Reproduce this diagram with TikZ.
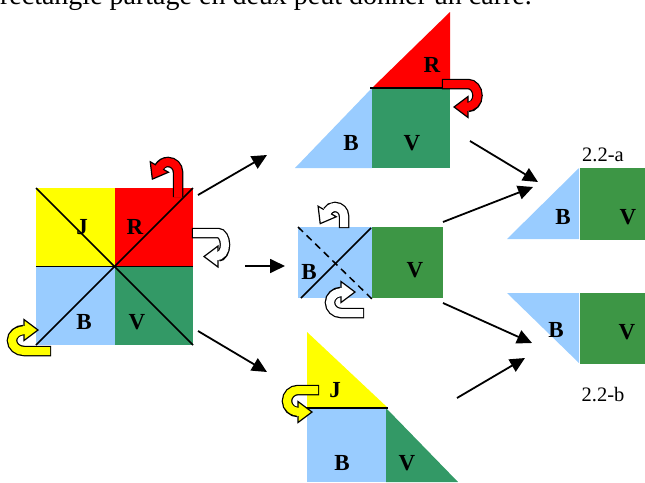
\documentclass[tikz,border=0pt]{standalone}
\usepackage{fontspec}
\setmainfont{Liberation Serif}
\usetikzlibrary{arrows.meta,calc}
\definecolor{jaune}{HTML}{FFFF00}
\definecolor{rouge}{HTML}{FF0000}
\definecolor{bleu}{HTML}{99CCFF}
\definecolor{vertA}{HTML}{339966}
\definecolor{vertB}{HTML}{3D9645}
\tikzset{
 lab/.style={font=\fontsize{23}{23}\selectfont\bfseries, inner sep=0pt},
 num/.style={font=\fontsize{20.5}{20.5}\selectfont, inner sep=0pt},
 conn/.style={line width=1.8pt, -{Triangle[length=15pt,width=14pt]}},
 cut/.style={line width=1.5pt},
 uout/.style={line width=10.5pt, draw=black},
 uin/.style={line width=8pt, draw=#1},
}
\newcommand\uhead[3]{\filldraw[fill=#3,draw=black,line width=1.2pt,line join=miter] ($(#1)+(#2+90:10.5)$) -- ($(#1)+(#2:14)$) -- ($(#1)+(#2-90:10.5)$) -- cycle;}
\newcommand\uturn[5]{% #1 name, #2 path, #3 head angle, #4 colour, #5 tail extension
 \draw[uout,shorten <=#5] #2 coordinate (#1);
 \uhead{#1}{#3}{#4}
 \draw[uin=#4,shorten >=-3pt] #2;}
\begin{document}
\begin{tikzpicture}[x=1pt,y=-1pt]
\useasboundingbox (0,0) rectangle (645,482);
\begin{scope}
\clip (0,0) rectangle (645,482);
\node[anchor=base east, font=\fontsize{28}{28}\selectfont, inner sep=0pt] (titre) at (532,4) {Un rectangle partagé en deux peut donner un carré.};
\end{scope}
% main square
\fill[jaune] (36,188) rectangle (114.5,266.5);
\fill[rouge] (114.5,188) rectangle (193,266.5);
\fill[bleu] (36,266.5) rectangle (114.5,345);
\fill[vertA] (114.5,266.5) rectangle (193,345);
\draw[cut] (36,188) -- (193,345);
\draw[cut] (36,345) -- (193,188);
\draw[cut] (36,266.5) -- (193,266.5);
\node[lab] (J1) at (82,227) {J};
\node[lab] (R1) at (135,227) {R};
\node[lab] (B1) at (84,322) {B};
\node[lab] (V1) at (137,322) {V};
% top figure
\fill[rouge] (372,88) -- (450,12) -- (450,88) -- cycle;
\fill[bleu] (295,168) -- (372,88) -- (372,168) -- cycle;
\fill[vertA] (372,88) rectangle (450,168);
\draw[cut] (370,88) -- (450,88);
\node[lab] (R2) at (432,65) {R};
\node[lab] (B2) at (351,143) {B};
\node[lab] (V2) at (412,143) {V};
% middle figure
\fill[bleu] (298,227) rectangle (372,298);
\fill[vertB] (372,227) rectangle (443,298);
\draw[cut] (301,298) -- (371,228);
\draw[cut, dashed, dash pattern=on 7pt off 5pt] (298,227) -- (373,300);
\node[lab] (B3) at (309,272) {B};
\node[lab] (V3) at (415,270) {V};
% bottom figure
\fill[jaune] (307,332) -- (307,408) -- (388,408) -- cycle;
\fill[bleu] (307,408) rectangle (386,482);
\fill[vertA] (386,408) -- (386,482) -- (458,482) -- cycle;
\draw[cut] (305,408) -- (388,408);
\node[lab] (J4) at (335,390) {J};
\node[lab] (B4) at (342,463) {B};
\node[lab] (V4) at (407,463) {V};
% result a
\fill[bleu] (507,239) -- (579,168) -- (579,239) -- cycle;
\fill[vertB] (580,168) rectangle (645,240);
\node[lab] (B5) at (563,217) {B};
\node[lab] (V5) at (628,217) {V};
\node[num] (la) at (603,155) {2.2-a};
% result b
\fill[bleu] (507,293) -- (579,293) -- (579,363) -- cycle;
\fill[vertB] (580,293) rectangle (645,364);
\node[lab] (B6) at (556,330) {B};
\node[lab] (V6) at (627,332) {V};
\node[num] (lb) at (603,395) {2.2-b};
% connectors
\coordinate (s1) at (198,195); \coordinate (e1) at (267,155);
\coordinate (s2) at (245,266); \coordinate (e2) at (285,266);
\coordinate (s3) at (198,331); \coordinate (e3) at (267,372);
\coordinate (s4) at (470,141); \coordinate (e4) at (538,182);
\coordinate (s5) at (443,222); \coordinate (e5) at (533,187);
\coordinate (s6) at (443,303); \coordinate (e6) at (532,343);
\coordinate (s7) at (457,398); \coordinate (e7) at (525,358);
\foreach \i in {1,...,7} {\draw[conn] (s\i) -- (e\i);}
% U-turn arrows
\uturn{uA}{(178,197) -- (178,172) arc[start angle=0,end angle=-150,radius=10]}{120}{rouge}{0pt}
\uturn{uB}{(193,233) -- (218,233) arc[start angle=-90,end angle=90,x radius=7,y radius=11.75]}{180}{white}{-1.2pt}
\uturn{uC}{(50,351) -- (24,351) arc[start angle=90,end angle=270,x radius=12,y radius=10.5]}{0}{jaune}{-1.2pt}
\uturn{uD}{(443,84) -- (468,84) arc[start angle=-90,end angle=90,x radius=9.5,y radius=11.5]}{180}{rouge}{-1.2pt}
\uturn{uE}{(344,227) -- (344,216) arc[start angle=0,end angle=-150,radius=9]}{120}{white}{-1.2pt}
\uturn{uF}{(363,313) -- (341,313) arc[start angle=90,end angle=270,x radius=11,y radius=10.5]}{0}{white}{-1.2pt}
\uturn{uG}{(318,390) -- (298,390) arc[start angle=-90,end angle=-270,x radius=11,y radius=11]}{0}{jaune}{-1.2pt}
\end{tikzpicture}
\end{document}
